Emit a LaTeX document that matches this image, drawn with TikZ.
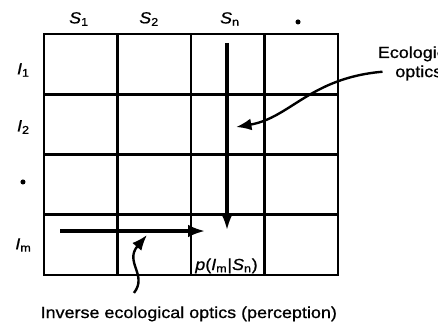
\documentclass[tikz,border=0pt]{standalone}
\usepackage{fontspec}
\setmainfont{Liberation Sans}[FakeStretch=1.12,FakeBold=0.8]
\usetikzlibrary{arrows.meta,positioning}

\begin{document}
\begin{tikzpicture}[
  x=1.8375cm, y=1.50625cm,
  >={Latex[length=11pt,width=8.5pt]},
  cellgrid/.style={line width=2pt, line cap=rect},
  flow/.style={->, line width=2.2pt, >={Latex[length=12pt,width=9pt]}},
  pointer/.style={->, line width=1.7pt},
  lbl/.style={font=\fontsize{11.4}{13.6}\selectfont, inner sep=0pt, align=center},
  dotmark/.style={circle, fill, inner sep=0pt, minimum size=3.6pt}
]
\useasboundingbox[fill=white] (-0.5986,-0.7801) rectangle (5.3605,4.5643);

\draw[cellgrid] (0,0) rectangle (4,4);
\draw[cellgrid] (1,0) -- (1,4);
\draw[cellgrid] (2,0) -- (2,4);
\draw[cellgrid] (3,0) -- (3,4);
\draw[cellgrid] (0,1) -- (4,1);
\draw[cellgrid] (0,2) -- (4,2);
\draw[cellgrid] (0,3) -- (4,3);

\node[lbl] (S1) at (0.476,4.249) {\textit{S}\textsubscript{1}};
\node[lbl] (S2) at (1.43,4.249) {\textit{S}\textsubscript{2}};
\node[lbl] (Sn) at (2.53,4.249) {\textit{S}\textsubscript{n}};
\node[dotmark] (Sdots) at (3.456,4.2) {};

\node[lbl] (I1) at (-0.28,3.402) {\textit{I}\textsubscript{1}};
\node[lbl] (I2) at (-0.28,2.456) {\textit{I}\textsubscript{2}};
\node[dotmark] (Idots) at (-0.286,1.544) {};
\node[lbl] (Im) at (-0.28,0.498) {\textit{I}\textsubscript{m}};

\node[lbl, anchor=base] (pcell) at (2.483,0.083) {\textit{p}(\textit{I}\textsubscript{m}|\textit{S}\textsubscript{n})};
\node[lbl] (ecolabel) at (5.099,3.512) {Ecological\\optics};
\node[lbl, anchor=base] (invlabel) at (1.97,-0.714) {Inverse ecological optics (perception)};

\coordinate (vtop) at (2.49,3.851);
\coordinate (vtip) at (2.49,0.747);
\coordinate (hstart) at (0.218,0.730);
\coordinate (htip) at (2.19,0.730);
\coordinate (ecotip) at (2.612,2.456);
\coordinate (invtip) at (1.401,0.664);

\draw[flow] (vtop) -- (vtip);
\draw[flow] (hstart) -- (htip);
\draw[pointer] ([xshift=3.5pt,yshift=6.4pt]ecolabel.south west) .. controls (3.619,3.270) and (3.347,2.606) .. (ecotip);
\draw[pointer] ([xshift=-39pt,yshift=9.4pt]invlabel.north) .. controls (1.415,0) and (1.088,0.216) .. (invtip);

\end{tikzpicture}
\end{document}
